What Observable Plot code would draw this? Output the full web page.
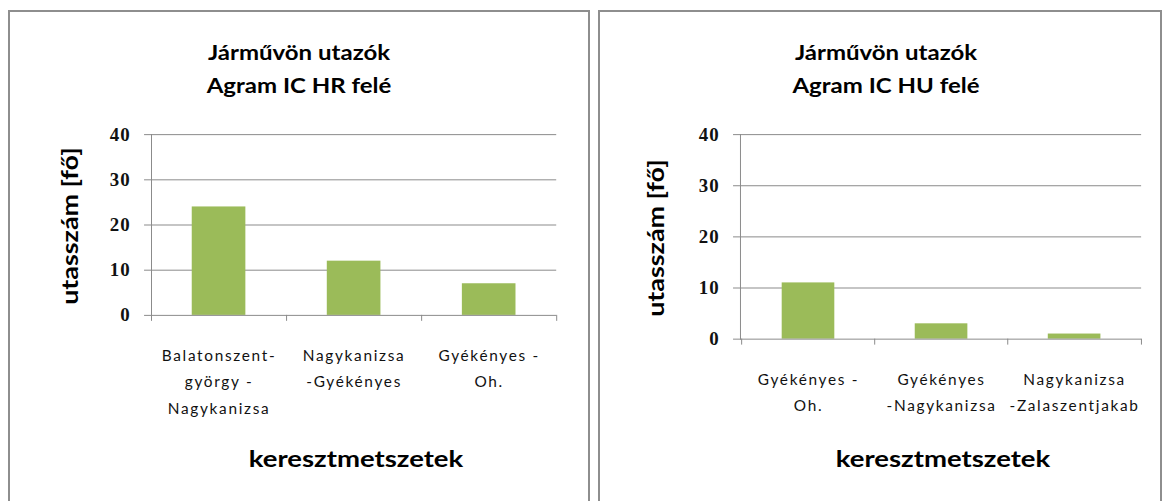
<!DOCTYPE html>
<html><head><meta charset="utf-8">
<script src="https://cdn.jsdelivr.net/npm/d3@7"></script>
<script src="https://cdn.jsdelivr.net/npm/@observablehq/plot@0.6"></script>
<style>
html,body{margin:0;padding:0;background:#fff;width:1166px;height:501px;overflow:hidden;}
.panel{position:absolute;box-sizing:border-box;border:2px solid #8e8e8e;background:#fff;}
.title{position:absolute;width:100%;text-align:center;font-family:Lato,"Open Sans",sans-serif;font-weight:bold;font-size:20px;line-height:33px;color:#000;transform:scaleX(1.2);transform-origin:center;}
.ytitle{position:absolute;font-family:Lato,sans-serif;font-weight:bold;font-size:22px;transform:translate(-50%,-50%) rotate(-90deg) scaleX(1.22);white-space:nowrap;color:#000;}
.xtitle{position:absolute;font-family:Lato,sans-serif;font-weight:bold;font-size:22px;transform:translate(-50%,-50%) scaleX(1.25);white-space:nowrap;color:#000;}
.chart{position:absolute;left:0;top:0;}
.chart g[aria-label="text"] text{letter-spacing:1.7px;}
.chart g[aria-label="y-axis tick label"] text{letter-spacing:1px;}
</style></head>
<body>
<script>
// ---- data ----
const catsHR = ["Balatonszent-\ngyörgy -\nNagykanizsa", "Nagykanizsa\n-Gyékényes", "Gyékényes -\nOh."];
const valuesHR = [24, 12, 7];
const catsHU = ["Gyékényes -\nOh.", "Gyékényes\n-Nagykanizsa", "Nagykanizsa\n-Zalaszentjakab"];
const valuesHU = [11, 3, 1];
const yTicks = [0, 10, 20, 30, 40];
const titleLine1 = "Járművön utazók";
const titleHR = "Agram IC HR felé";
const titleHU = "Agram IC HU felé";
const yTitle = "utasszám [fő]";
const xTitle = "keresztmetszetek";

function panel(opts) {
  const {left, top, width, height, cats, values, title2, mL, mR, mT, mB} = opts;
  const div = document.createElement("div");
  div.className = "panel";
  Object.assign(div.style, {left: left + "px", top: top + "px", width: width + "px", height: height + "px"});
  document.body.appendChild(div);

  const data = cats.map((c, i) => ({cat: c, v: values[i]}));
  const plotW = width - mL - mR;
  const plotH = height - mT - mB;
  const step = plotW / cats.length;
  const tickLen = 6 * 40 / plotH;

  const chart = Plot.plot({
    width, height,
    marginLeft: mL, marginRight: mR, marginTop: mT, marginBottom: mB,
    style: {background: "transparent", overflow: "visible"},
    x: {domain: cats, paddingInner: 0.605, paddingOuter: 0.3025, axis: null},
    y: {domain: [0, 40], axis: null},
    marks: [
      Plot.gridY(yTicks.filter(t => t > 0), {stroke: "#8a8a8a", strokeOpacity: 1, strokeWidth: 1}),
      Plot.axisY({ticks: yTicks, label: null, tickSize: 7, tickPadding: 14, stroke: "#8a8a8a", fontFamily: "'Liberation Serif',serif", fontWeight: "bold", fontSize: 19, fill: "#111"}),
      Plot.barY(data, {x: "cat", y: "v", fill: "#9bbb59"}),
      Plot.frame({anchor: "left", stroke: "#8a8a8a"}),
      Plot.ruleY([0], {stroke: "#8a8a8a"}),
      Plot.ruleX(cats, {x: d => d, y1: 0, y2: -tickLen, dx: -step / 2, stroke: "#8a8a8a"}),
      Plot.ruleX([cats[cats.length - 1]], {x: d => d, y1: 0, y2: -tickLen, dx: step / 2, stroke: "#8a8a8a"}),
      Plot.text(cats, {x: d => d, y: 0, dy: 27, lineAnchor: "top", lineHeight: 1.71, fontFamily: "Lato,sans-serif", fontSize: 15.5, fill: "#111", text: d => d})
    ]
  });
  chart.classList.add("chart");
  chart.style.left = "-2px";
  chart.style.top = "-2px";
  div.appendChild(chart);

  const t = document.createElement("div");
  t.className = "title";
  t.style.top = "24px";
  t.innerHTML = titleLine1 + "<br>" + title2;
  t.style.left = (opts.titleDx || 0) + "px";
  div.appendChild(t);

  const yt = document.createElement("div");
  yt.className = "ytitle";
  yt.textContent = yTitle;
  yt.style.left = (opts.yTitleX - 2) + "px";
  yt.style.top = (mT + plotH / 2 - 2) + "px";
  div.appendChild(yt);

  const xt = document.createElement("div");
  xt.className = "xtitle";
  xt.textContent = xTitle;
  xt.style.left = (mL + plotW / 2 - 2) + "px";
  xt.style.top = (opts.xTitleY - 2) + "px";
  div.appendChild(xt);
}

panel({left: 8, top: 10, width: 582, height: 500, cats: catsHR, values: valuesHR, title2: titleHR,
  mL: 144, mR: 30, mT: 125, mB: 500 - (317 - 10), yTitleX: 61, xTitleY: 448, titleDx: 0});
panel({left: 598, top: 10, width: 564, height: 500, cats: catsHU, values: valuesHU, title2: titleHU,
  mL: 143, mR: 17, mT: 125, mB: 500 - (341 - 10), yTitleX: 57, xTitleY: 448, titleDx: 6});
</script>
</body></html>
